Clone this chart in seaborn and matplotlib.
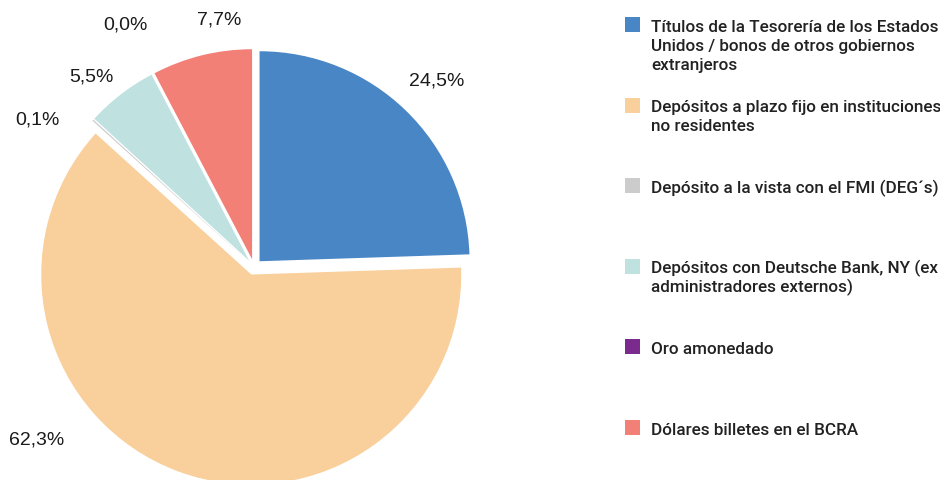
import matplotlib
matplotlib.use("Agg")
import matplotlib.pyplot as plt
from matplotlib.patches import Rectangle
import seaborn as sns

# Composition of international reserves (% of total)
categories = [
    "Títulos de la Tesorería de los Estados\nUnidos / bonos de otros gobiernos\nextranjeros",
    "Depósitos a plazo fijo en instituciones\nno residentes",
    "Depósito a la vista con el FMI (DEG´s)",
    "Depósitos con Deutsche Bank, NY (ex\nadministradores externos)",
    "Oro amonedado",
    "Dólares billetes en el BCRA",
]
shares = [24.5, 62.3, 0.1, 5.5, 0.0, 7.7]
share_labels = ["24,5%", "62,3%", "0,1%", "5,5%", "0,0%", "7,7%"]
slice_colors = ["#4986C5", "#F9CF9B", "#CCCCCC", "#BFE1E0", "#7B2B8E", "#F28077"]

# Where each percentage label sits, in pie-radius units from the centre
label_xy = [(0.871, 0.890), (-1.033, -0.819), (-1.029, 0.705),
            (-0.776, 0.910), (-0.610, 1.157), (-0.167, 1.181)]

sns.set_theme(style="white")
plt.rcParams["font.family"] = ["Liberation Sans", "DejaVu Sans"]

W, H = 940, 481
fig = plt.figure(figsize=(W / 100, H / 100), dpi=100)

# Pie axes: centre at (254, 268) px, radius 210 px
R = 210.0
cx, cy = 254.0, 268.0
ax = fig.add_axes([0, 0, 2 * cx / W, 1])
ax.pie(shares, colors=slice_colors, startangle=90, counterclock=False,
       explode=[8 / R] * len(shares), radius=1.0,
       wedgeprops=dict(linewidth=0))
ax.set_aspect("auto")
ax.set_xlim(-cx / R, cx / R)
ax.set_ylim(-(H - cy) / R, cy / R)
ax.axis("off")

for (lx, ly), txt in zip(label_xy, share_labels):
    ax.text(lx, ly, txt, ha="center", va="center", fontsize=14,
            color="#1a1a1a", family=["Liberation Sans", "DejaVu Sans"])

# Legend drawn in pixel space on the right; each wrapped line is placed
# on its own baseline so that every entry gets the same line pitch
lg = fig.add_axes([0, 0, 1, 1], facecolor="none")
lg.set_xlim(0, W)
lg.set_ylim(H, 0)
lg.axis("off")
first_y, step, box, pitch = 25.5, 80.6, 15, 19.0
for i, (name, col) in enumerate(zip(categories, slice_colors)):
    yc = first_y + i * step
    lg.add_patch(Rectangle((625, yc - box / 2), box, box, facecolor=col,
                           edgecolor="none"))
    for j, line in enumerate(name.split("\n")):
        lg.text(651, yc + 6.1 + j * pitch, line, ha="left", va="baseline",
                fontsize=12.3, fontweight="medium", color="#222222",
                family=["Roboto", "DejaVu Sans"])

fig.savefig("out.png", dpi=100)
